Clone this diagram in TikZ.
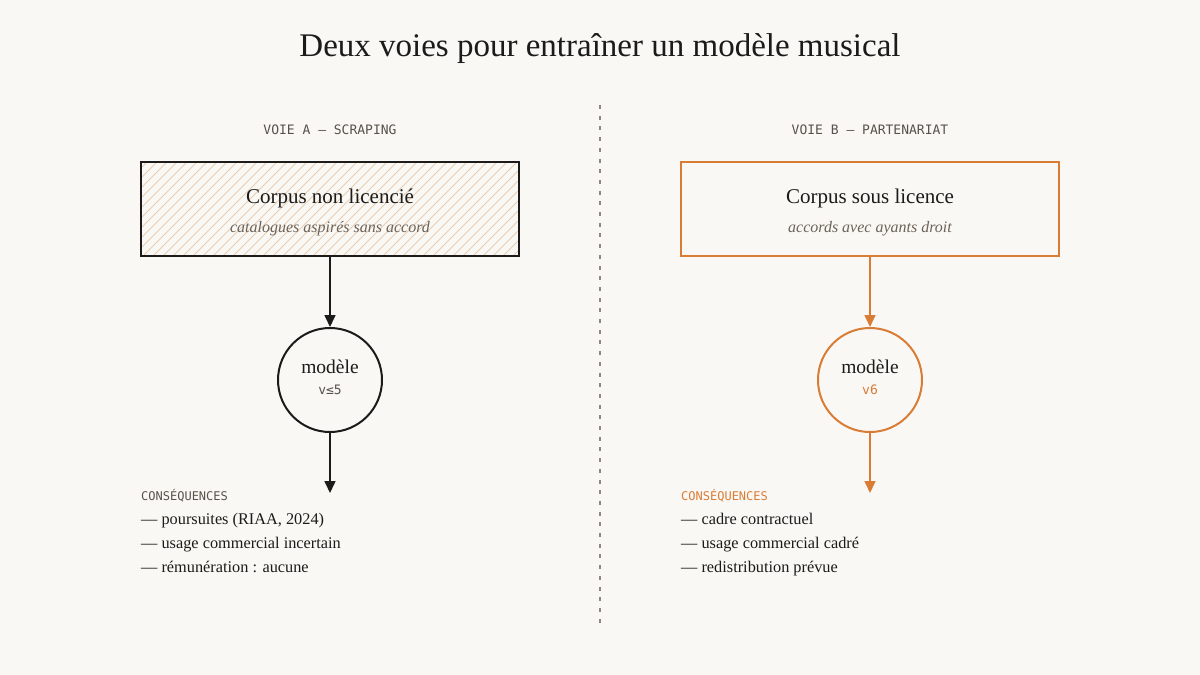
\documentclass[tikz,border=0pt]{standalone}
\usepackage{fontspec}
\setmainfont{Liberation Serif}
\newfontfamily\monof{DejaVu Sans Mono}
\usetikzlibrary{arrows.meta}
\definecolor{bg}{HTML}{FAF8F4}
\definecolor{ink}{HTML}{1C1B19}
\definecolor{orng}{HTML}{D97C36}
\definecolor{grayt}{HTML}{57524B}
\definecolor{subt}{HTML}{6B6359}
\definecolor{hatchc}{HTML}{E8CDB3}
\definecolor{divc}{HTML}{8C877F}
\tikzset{
  boxA/.style={draw=ink, line width=1.8pt, minimum width=378pt, minimum height=94pt, inner sep=0pt},
  boxB/.style={draw=orng, line width=1.8pt, minimum width=378pt, minimum height=94pt, inner sep=0pt},
  circA/.style={circle, draw=ink, line width=2pt, minimum size=104pt, inner sep=0pt},
  circB/.style={circle, draw=orng, line width=2pt, minimum size=104pt, inner sep=0pt},
  arrA/.style={draw=ink, line width=1.6pt, -{Triangle[width=11pt,length=12pt]}},
  arrB/.style={draw=orng, line width=1.6pt, -{Triangle[width=11pt,length=12pt]}},
  txt/.style={inner sep=0pt, anchor=base},
  lbl/.style={txt, font=\monof\fontsize{13}{15}\selectfont, text=grayt},
  cons/.style={txt, anchor=base west, font=\monof\fontsize{12}{14}\selectfont},
  item/.style={txt, anchor=base west, font=\fontsize{16.3}{19}\selectfont, text=ink},
  btitle/.style={txt, font=\fontsize{21}{24}\selectfont, text=ink},
  bsub/.style={txt, font=\itshape\fontsize{16}{19}\selectfont, text=subt},
  mtitle/.style={txt, font=\fontsize{19.5}{22}\selectfont, text=ink},
  msub/.style={txt, font=\monof\fontsize{13}{15}\selectfont},
  hatch/.style={draw=hatchc, line width=0.9pt},
}
\begin{document}
\begin{tikzpicture}[x=1pt,y=-1pt]
\fill[bg] (0,0) rectangle (1200,675);
\useasboundingbox (0,0) rectangle (1200,675);

% title
\node[txt, font=\fontsize{33}{38}\selectfont, text=ink] (title) at (600,56) {Deux voies pour entraîner un modèle musical};

% divider
\coordinate (dtop) at (600,105);
\coordinate (dbot) at (600,628);
\draw[divc, line width=1.6pt, dash pattern=on 4pt off 6.7pt] (dtop) -- (dbot);

% ---------- Voie A ----------
\node[lbl] (labA) at (330,134) {VOIE A — SCRAPING};
\begin{scope}
  \clip (141,162) rectangle (519,256);
  \foreach \i in {-100,-90,...,520} \draw[hatch] (141+\i,258) -- ++(100,-100);
\end{scope}
\node[boxA] (boxA) at (330,209) {};
\node[btitle] (tA) at (330,203) {Corpus non licencié};
\node[bsub] (sA) at (330,232) {catalogues aspirés sans accord};

\node[circA] (cA) at (330,380) {};
\node[mtitle] (mA) at (330,373) {modèle};
\node[msub, text=grayt] (vA) at (330,394) {v≤5};

\coordinate (endA) at (330,493);
\draw[arrA] (boxA.south) -- (cA.north);
\draw[arrA] (cA.south) -- (endA);

\node[cons, text=grayt] (cqA) at (141,500) {CONSÉQUENCES};
\node[item] (a1) at (141,524) {— poursuites (RIAA, 2024)};
\node[item] (a2) at (141,548) {— usage commercial incertain};
\node[item] (a3) at (141,572) {— rémunération : aucune};

% ---------- Voie B ----------
\node[lbl] (labB) at (870,134) {VOIE B — PARTENARIAT};
\node[boxB] (boxB) at (870,209) {};
\node[btitle] (tB) at (870,203) {Corpus sous licence};
\node[bsub] (sB) at (870,232) {accords avec ayants droit};

\node[circB] (cB) at (870,380) {};
\node[mtitle] (mB) at (870,373) {modèle};
\node[msub, text=orng] (vB) at (870,394) {v6};

\coordinate (endB) at (870,493);
\draw[arrB] (boxB.south) -- (cB.north);
\draw[arrB] (cB.south) -- (endB);

\node[cons, text=orng] (cqB) at (681,500) {CONSÉQUENCES};
\node[item] (b1) at (681,524) {— cadre contractuel};
\node[item] (b2) at (681,548) {— usage commercial cadré};
\node[item] (b3) at (681,572) {— redistribution prévue};
\end{tikzpicture}
\end{document}
